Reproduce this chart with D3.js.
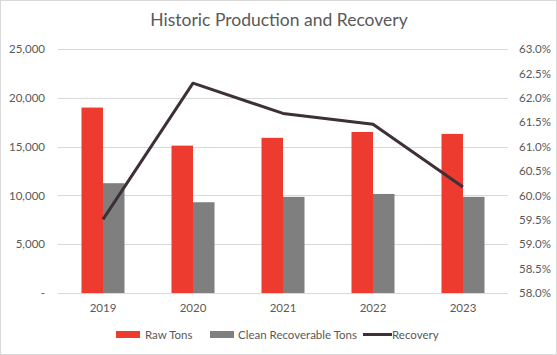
<!DOCTYPE html>
<html><head><meta charset="utf-8">
<script src="https://cdn.jsdelivr.net/npm/d3@7"></script>
<style>body{margin:0;background:#fff}svg{display:block}text{font-family:Lato,"Open Sans",sans-serif}</style>
</head><body><svg id="c" width="557" height="355"></svg>
<script>
const years = ["2019","2020","2021","2022","2023"];
const rawTons = [19000, 15100, 15900, 16500, 16300];
const cleanTons = [11250, 9300, 9850, 10150, 9850];
const recovery = [59.51, 62.30, 61.68, 61.46, 60.17];
const leftTicks = [0, 5000, 10000, 15000, 20000, 25000];
const rightTicks = [58, 58.5, 59, 59.5, 60, 60.5, 61, 61.5, 62, 62.5, 63];

const svg = d3.select("#c");
svg.append("rect").attr("x",0.5).attr("y",0.5).attr("width",556).attr("height",354)
  .attr("fill","#fff").attr("stroke","#d9d9d9");

const L=58, R=508, T=49, B=293;
const x = d3.scaleBand().domain(years).range([L,R]).paddingInner(0).paddingOuter(0);
const yL = d3.scaleLinear().domain([0,25000]).range([B,T]);
const yR = d3.scaleLinear().domain([58,63]).range([B,T]);

// gridlines
svg.append("g").selectAll("line").data(leftTicks).join("line")
  .attr("x1",L).attr("x2",R).attr("y1",d=>Math.round(yL(d))+0.5).attr("y2",d=>Math.round(yL(d))+0.5)
  .attr("stroke","#d9d9d9").attr("stroke-width",1);

// left axis
const fmt = d3.format(",");
const la = svg.append("g").attr("transform",`translate(${L},0)`)
  .call(d3.axisLeft(yL).tickValues(leftTicks).tickSize(0).tickPadding(13).tickFormat(d=>d===0?"-":fmt(d)));
la.select(".domain").remove();
la.selectAll("text").attr("font-size",11.5).attr("fill","#595959");

// right axis
const ra = svg.append("g").attr("transform",`translate(${R},0)`)
  .call(d3.axisRight(yR).tickValues(rightTicks).tickSize(0).tickPadding(11).tickFormat(d=>d.toFixed(1)+"%"));
ra.select(".domain").remove();
ra.selectAll("text").attr("font-size",11.5).attr("fill","#595959");

// x axis
const xa = svg.append("g").attr("transform",`translate(0,${B})`)
  .call(d3.axisBottom(x).tickSize(0).tickPadding(11));
xa.select(".domain").remove();
xa.selectAll("text").attr("font-size",11.5).attr("fill","#595959");

// bars
const bw = 21.5;
svg.append("g").selectAll("rect").data(years).join("rect")
  .attr("x",(d)=>x(d)+x.bandwidth()/2-bw).attr("width",bw)
  .attr("y",(d,i)=>yL(rawTons[i])).attr("height",(d,i)=>B-yL(rawTons[i]))
  .attr("fill","#ee3b30");
svg.append("g").selectAll("rect").data(years).join("rect")
  .attr("x",(d)=>x(d)+x.bandwidth()/2).attr("width",bw)
  .attr("y",(d,i)=>yL(cleanTons[i])).attr("height",(d,i)=>B-yL(cleanTons[i]))
  .attr("fill","#7f7f7f");

// baseline
svg.append("line").attr("x1",L).attr("x2",R).attr("y1",B+0.5).attr("y2",B+0.5).attr("stroke","#d9d9d9");

// line
const line = d3.line().x((d,i)=>x(years[i])+x.bandwidth()/2).y(d=>yR(d));
svg.append("path").datum(recovery).attr("d",line).attr("fill","none")
  .attr("stroke","#3d3039").attr("stroke-width",3).attr("stroke-linejoin","round");

// title
svg.append("text").attr("x",279).attr("y",26).attr("text-anchor","middle")
  .attr("font-size",17.5).attr("fill","#595959").text("Historic Production and Recovery");

// legend
const lg = svg.append("g").attr("font-size",11.5).attr("fill","#595959");
lg.append("rect").attr("x",116).attr("y",331).attr("width",24).attr("height",7).attr("fill","#ee3b30");
lg.append("text").attr("x",145).attr("y",338.5).attr("fill","#595959").text("Raw Tons");
lg.append("rect").attr("x",210).attr("y",331).attr("width",24).attr("height",7).attr("fill","#7f7f7f");
lg.append("text").attr("x",238).attr("y",338.5).attr("fill","#595959").text("Clean Recoverable Tons");
lg.append("line").attr("x1",363).attr("x2",392).attr("y1",334.5).attr("y2",334.5).attr("stroke","#3d3039").attr("stroke-width",3);
lg.append("text").attr("x",392).attr("y",338.5).attr("fill","#595959").text("Recovery");
</script></body></html>
